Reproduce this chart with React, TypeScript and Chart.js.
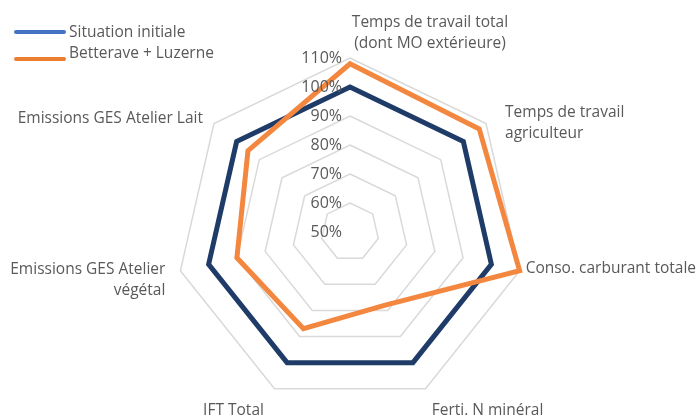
import React, { useEffect, useRef } from "react";
import { Chart, registerables } from "chart.js";

Chart.register(...registerables);

const categories: string[][] = [
  ["Temps de travail total", "(dont MO extérieure)"],
  ["Temps de travail", "agriculteur"],
  ["Conso. carburant totale"],
  ["Ferti. N minéral"],
  ["IFT Total"],
  ["Emissions GES Atelier", "végétal"],
  ["Emissions GES Atelier Lait"],
];

const situationInitiale = [100, 100, 100, 100, 100, 100, 100];
const betteraveLuzerne = [108, 107, 110, 78, 87, 90, 95];

const tickValues = [50, 60, 70, 80, 90, 100, 110];
const seriesNames = ["Situation initiale", "Betterave + Luzerne"];

const FONT = "'Open Sans', 'Noto Sans', sans-serif";
const TEXT = "#595959";

// per-label placement relative to the outer vertex
const labelPlacement = [
  { dx: 80, dy: -25, align: "center" as CanvasTextAlign },
  { dx: 19, dy: 0, align: "left" as CanvasTextAlign },
  { dx: 6, dy: -2, align: "left" as CanvasTextAlign },
  { dx: 62, dy: 22, align: "center" as CanvasTextAlign },
  { dx: -41, dy: 22, align: "center" as CanvasTextAlign },
  { dx: -15, dy: 9, align: "right" as CanvasTextAlign },
  { dx: -11, dy: -5, align: "right" as CanvasTextAlign },
];

const overlayPlugin = {
  id: "overlay",
  afterDraw(chart: any) {
    const ctx: CanvasRenderingContext2D = chart.ctx;
    const scale = chart.scales.r;
    ctx.save();
    ctx.fillStyle = TEXT;
    ctx.textBaseline = "middle";
    // tick labels
    ctx.font = `16px ${FONT}`;
    ctx.textAlign = "right";
    tickValues.forEach((v) => {
      const d = scale.getDistanceFromCenterForValue(v);
      ctx.fillText(v + "%", scale.xCenter - 8, scale.yCenter - d);
    });
    // point labels
    ctx.font = `15.5px ${FONT}`;
    categories.forEach((lines, i) => {
      const p = scale.getPointPosition(i, scale.drawingArea);
      const pl = labelPlacement[i];
      ctx.textAlign = pl.align;
      const lh = 21;
      const y0 = p.y + pl.dy - ((lines.length - 1) * lh) / 2;
      lines.forEach((t, k) => {
        ctx.fillText(t, p.x + pl.dx, y0 + k * lh);
      });
    });
    // legend
    const legendColors = ["#4472C4", "#ED7D31"];
    const legendY = [32, 59];
    const textY = [33, 54];
    seriesNames.forEach((name, i) => {
      ctx.strokeStyle = legendColors[i];
      ctx.lineWidth = 4;
      ctx.lineCap = "round";
      ctx.beginPath();
      ctx.moveTo(16, legendY[i]);
      ctx.lineTo(64, legendY[i]);
      ctx.stroke();
      ctx.textAlign = "left";
      ctx.fillText(name, 69, textY[i]);
    });
    ctx.restore();
  },
};

export default function App() {
  const ref = useRef<HTMLCanvasElement | null>(null);
  useEffect(() => {
    if (!ref.current) return;
    const chart = new Chart(ref.current, {
      type: "radar",
      data: {
        labels: categories.map((c) => c.join(" ")),
        datasets: [
          {
            label: seriesNames[0],
            data: situationInitiale,
            borderColor: "#1F3B68",
            borderWidth: 5,
            fill: false,
            pointRadius: 0,
            borderJoinStyle: "miter",
            order: 1,
          },
          {
            label: seriesNames[1],
            data: betteraveLuzerne,
            borderColor: "#F4873F",
            borderWidth: 5,
            fill: false,
            pointRadius: 0,
            borderJoinStyle: "miter",
            order: 0,
          },
        ],
      },
      options: {
        responsive: false,
        animation: false,
        devicePixelRatio: 1,
        layout: { padding: { left: 176, right: 173, top: 58, bottom: 13 } },
        plugins: { legend: { display: false }, tooltip: { enabled: false } },
        elements: { line: { tension: 0 } },
        scales: {
          r: {
            min: 50,
            max: 110,
            ticks: { stepSize: 10, display: false },
            grid: { color: "#D9D9D9", lineWidth: 1.5 },
            angleLines: { display: false },
            pointLabels: { display: false },
          },
        },
      },
      plugins: [overlayPlugin],
    });
    return () => chart.destroy();
  }, []);
  return (
    <div style={{ position: "fixed", left: 0, top: 0, width: 697, height: 419, background: "#fff" }}>
      <canvas ref={ref} width={697} height={419} />
    </div>
  );
}
